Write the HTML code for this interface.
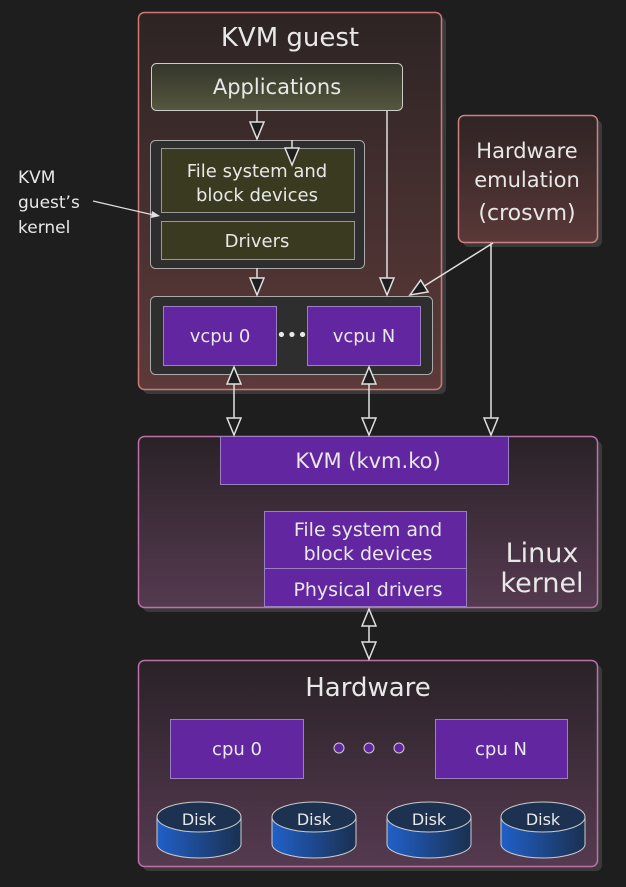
<!DOCTYPE html>
<html><head><meta charset="utf-8"><style>
html,body{margin:0;padding:0;background:#1e1e1e;}
svg{display:block;}
text{font-family:"DejaVu Sans","Liberation Sans",sans-serif;fill:#e8e8e8;text-anchor:middle;}
</style></head><body>
<svg width="626" height="887" viewBox="0 0 626 887" xmlns="http://www.w3.org/2000/svg">
<defs>
<linearGradient id="gg" x1="0" y1="0" x2="0" y2="1"><stop offset="0" stop-color="#2d2424"/><stop offset="1" stop-color="#5e3a3a"/></linearGradient>
<linearGradient id="eg" x1="0" y1="0" x2="0" y2="1"><stop offset="0" stop-color="#2f2424"/><stop offset="1" stop-color="#5a3838"/></linearGradient>
<linearGradient id="kg" x1="0" y1="0" x2="0" y2="1"><stop offset="0" stop-color="#2a2227"/><stop offset="1" stop-color="#553a50"/></linearGradient>
<linearGradient id="ag" x1="0" y1="0" x2="0" y2="1"><stop offset="0" stop-color="#33362a"/><stop offset="1" stop-color="#55573e"/></linearGradient>
<linearGradient id="dg" x1="0" y1="0" x2="1" y2="0"><stop offset="0" stop-color="#2160c8"/><stop offset="1" stop-color="#1a3050"/></linearGradient>
<marker id="ah" viewBox="0 0 20 16" refX="18" refY="8" markerWidth="20" markerHeight="16" markerUnits="userSpaceOnUse" orient="auto-start-reverse">
<path d="M1,1 L18,8 L1,15 Z" fill="#1e1e1e" stroke="#e0e0e0" stroke-width="1.5"/></marker>
</defs>
<rect x="143" y="17" width="303" height="377" rx="6" fill="#3a3a3a"/>
<rect x="463" y="120" width="139" height="127" rx="6" fill="#3a3a3a"/>
<rect x="143" y="441" width="459" height="171" rx="6" fill="#3a3a3a"/>
<rect x="143" y="665" width="459" height="206" rx="6" fill="#3a3a3a"/>
<rect x="138.5" y="12.5" width="303" height="377" rx="6" fill="url(#gg)" stroke="#d07878" stroke-width="1.5"/>
<text x="290" y="46" font-size="26">KVM guest</text>
<rect x="151.5" y="63.5" width="251" height="47" rx="5" fill="url(#ag)" stroke="#ccc"/>
<text x="277" y="94" font-size="21">Applications</text>
<rect x="150.5" y="140.5" width="214" height="128" rx="5" fill="#2e2e2e" stroke="#aaa"/>
<rect x="161.5" y="148.5" width="193" height="64" fill="#3a3a20" stroke="#999"/>
<text x="257" y="177" font-size="18">File system and</text>
<text x="257" y="201" font-size="18">block devices</text>
<rect x="161.5" y="221.5" width="193" height="38" fill="#3a3a20" stroke="#999"/>
<text x="257" y="247" font-size="18">Drivers</text>
<rect x="150.5" y="296.5" width="282" height="78" rx="5" fill="#2e2e2e" stroke="#aaa"/>
<rect x="163.5" y="306.5" width="113" height="59" fill="#6226a0" stroke="#9a80c0"/>
<text x="220" y="342" font-size="18">vcpu 0</text>
<rect x="307.5" y="306.5" width="113" height="59" fill="#6226a0" stroke="#9a80c0"/>
<text x="364" y="342" font-size="18">vcpu N</text>
<text x="292" y="341" font-size="18">•••</text>
<rect x="458.5" y="115.5" width="139" height="127" rx="6" fill="url(#eg)" stroke="#d08080" stroke-width="1.5"/>
<text x="527" y="158" font-size="21">Hardware</text>
<text x="527" y="187" font-size="21">emulation</text>
<text x="527" y="220" font-size="22">(crosvm)</text>
<rect x="138.5" y="436.5" width="459" height="171" rx="6" fill="url(#kg)" stroke="#c070a8" stroke-width="1.5"/>
<rect x="220.5" y="436.5" width="288" height="48" fill="#6226a0" stroke="#9a80c0"/>
<text x="368" y="468" font-size="21">KVM (kvm.ko)</text>
<rect x="264.5" y="511.5" width="202" height="57" fill="#6226a0" stroke="#9a80c0"/>
<text x="368" y="536" font-size="19">File system and</text>
<text x="368" y="560" font-size="19">block devices</text>
<rect x="264.5" y="568.5" width="202" height="38" fill="#6226a0" stroke="#9a80c0"/>
<text x="368" y="596" font-size="19">Physical drivers</text>
<text x="542" y="562" font-size="27">Linux</text>
<text x="542" y="592" font-size="27">kernel</text>
<rect x="138.5" y="660.5" width="459" height="206" rx="6" fill="url(#kg)" stroke="#c070a8" stroke-width="1.5"/>
<text x="368" y="696" font-size="26">Hardware</text>
<rect x="170.5" y="719.5" width="133" height="59" fill="#6226a0" stroke="#9a80c0"/>
<text x="237" y="755" font-size="18">cpu 0</text>
<rect x="435.5" y="719.5" width="132" height="59" fill="#6226a0" stroke="#9a80c0"/>
<text x="501" y="755" font-size="18">cpu N</text>
<circle cx="339" cy="748" r="5" fill="#6226a0" stroke="#ccc"/>
<circle cx="369" cy="748" r="5" fill="#6226a0" stroke="#ccc"/>
<circle cx="399" cy="748" r="5" fill="#6226a0" stroke="#ccc"/>
<g stroke="#ccc" stroke-width="1">
<path d="M157,817 L157,844 A42,14 0 0 0 241,844 L241,817 Z" fill="url(#dg)"/><ellipse cx="199" cy="817" rx="42" ry="15" fill="#1c3250"/>
<path d="M272,817 L272,844 A42,14 0 0 0 356,844 L356,817 Z" fill="url(#dg)"/><ellipse cx="314" cy="817" rx="42" ry="15" fill="#1c3250"/>
<path d="M387,817 L387,844 A42,14 0 0 0 471,844 L471,817 Z" fill="url(#dg)"/><ellipse cx="429" cy="817" rx="42" ry="15" fill="#1c3250"/>
<path d="M501,817 L501,844 A42,14 0 0 0 585,844 L585,817 Z" fill="url(#dg)"/><ellipse cx="543" cy="817" rx="42" ry="15" fill="#1c3250"/>
</g>
<text x="199" y="825" font-size="16">Disk</text>
<text x="314" y="825" font-size="16">Disk</text>
<text x="429" y="825" font-size="16">Disk</text>
<text x="543" y="825" font-size="16">Disk</text>
<g stroke="#e0e0e0" stroke-width="1.5" fill="none">
<line x1="257" y1="110" x2="257" y2="139" marker-end="url(#ah)"/>
<line x1="292" y1="140" x2="292" y2="165" marker-end="url(#ah)"/>
<line x1="257" y1="268" x2="257" y2="295" marker-end="url(#ah)"/>
<line x1="387" y1="111" x2="387" y2="295" marker-end="url(#ah)"/>
<line x1="493" y1="243" x2="410" y2="295" marker-end="url(#ah)"/>
<line x1="491" y1="243" x2="491" y2="435" marker-end="url(#ah)"/>
<line x1="234" y1="367" x2="234" y2="435" marker-start="url(#ah)" marker-end="url(#ah)"/>
<line x1="369" y1="367" x2="369" y2="435" marker-start="url(#ah)" marker-end="url(#ah)"/>
<line x1="369" y1="609" x2="369" y2="659" marker-start="url(#ah)" marker-end="url(#ah)"/>
<line x1="93" y1="201" x2="158" y2="216" stroke-width="1.2"/>
</g>
<path d="M152,211 L160,216 L151,218 Z" fill="#e0e0e0"/>
<text x="18" y="183" font-size="17" style="text-anchor:start">KVM</text>
<text x="18" y="208" font-size="17" style="text-anchor:start">guest’s</text>
<text x="18" y="233" font-size="17" style="text-anchor:start">kernel</text>
</svg>
</body></html>
